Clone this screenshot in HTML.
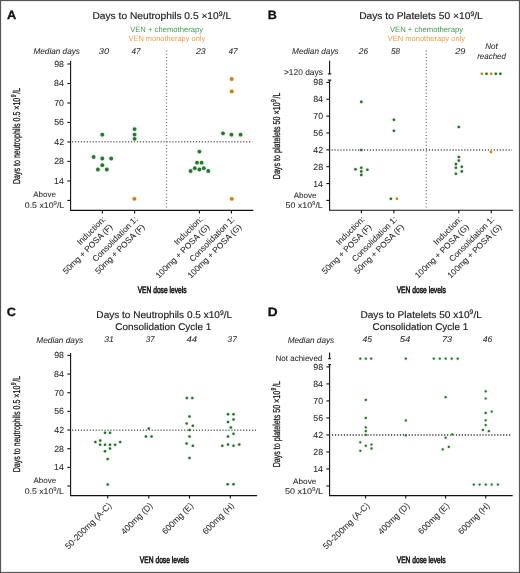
<!DOCTYPE html>
<html><head><meta charset="utf-8"><style>
html,body{margin:0;padding:0;background:#fff;}
svg{display:block;will-change:transform;}
text{font-family:"Liberation Sans",sans-serif;text-rendering:geometricPrecision;}
</style></head><body>
<svg width="520" height="573" viewBox="0 0 520 573">
<rect x="0" y="0" width="520" height="573" fill="#fff"/>
<text x="6.98" y="18.6" font-size="12" fill="#111" font-weight="bold" stroke="#111" stroke-width="0.3" textLength="9.26" lengthAdjust="spacingAndGlyphs" ><tspan font-size="12">A</tspan></text>
<text x="92.47" y="18.9" font-size="9.8" fill="#1a1a1a" stroke="#1a1a1a" stroke-width="0.15" textLength="138.62" lengthAdjust="spacingAndGlyphs" ><tspan font-size="9.8">Days to Neutrophils 0.5 ×10</tspan><tspan font-size="6.664000000000001" dy="-3.23">9</tspan><tspan font-size="9.8" dy="3.23">/L</tspan></text>
<text x="130.15" y="31.8" font-size="7.8" fill="#409a4a" textLength="72.86" lengthAdjust="spacingAndGlyphs" ><tspan font-size="7.8">VEN + chemotherapy</tspan></text>
<text x="128.45" y="41.3" font-size="7.6" fill="#e99f48" textLength="76.75" lengthAdjust="spacingAndGlyphs" ><tspan font-size="7.6">VEN monotherapy only</tspan></text>
<text x="33.45" y="54.2" font-size="8.3" fill="#2a2a2a" font-style="italic" stroke="#2a2a2a" stroke-width="0.06" textLength="46.51" lengthAdjust="spacingAndGlyphs" ><tspan font-size="8.3">Median days</tspan></text>
<text x="98.78" y="54.1" font-size="8.3" fill="#2a2a2a" font-style="italic" stroke="#2a2a2a" stroke-width="0.06" textLength="10.32" lengthAdjust="spacingAndGlyphs" ><tspan font-size="8.3">30</tspan></text>
<text x="131.45" y="54.1" font-size="8.3" fill="#2a2a2a" font-style="italic" stroke="#2a2a2a" stroke-width="0.06" textLength="9.04" lengthAdjust="spacingAndGlyphs" ><tspan font-size="8.3">47</tspan></text>
<text x="196.05" y="54.1" font-size="8.3" fill="#2a2a2a" font-style="italic" stroke="#2a2a2a" stroke-width="0.06" textLength="9.63" lengthAdjust="spacingAndGlyphs" ><tspan font-size="8.3">23</tspan></text>
<text x="228.55" y="54.1" font-size="8.3" fill="#2a2a2a" font-style="italic" stroke="#2a2a2a" stroke-width="0.06" textLength="9.13" lengthAdjust="spacingAndGlyphs" ><tspan font-size="8.3">47</tspan></text>
<line x1="70.6" y1="61" x2="70.6" y2="210.4" stroke="#111" stroke-width="1.1"/>
<line x1="67.39999999999999" y1="64.0" x2="70.6" y2="64.0" stroke="#111" stroke-width="1.1"/>
<text x="54.20" y="66.95" font-size="8.8" fill="#2a2a2a" stroke="#2a2a2a" stroke-width="0.06" textLength="9.79" lengthAdjust="spacingAndGlyphs" ><tspan font-size="8.8">98</tspan></text>
<line x1="67.39999999999999" y1="83.49" x2="70.6" y2="83.49" stroke="#111" stroke-width="1.1"/>
<text x="54.05" y="86.44" font-size="8.8" fill="#2a2a2a" stroke="#2a2a2a" stroke-width="0.06" textLength="9.79" lengthAdjust="spacingAndGlyphs" ><tspan font-size="8.8">84</tspan></text>
<line x1="67.39999999999999" y1="102.97999999999999" x2="70.6" y2="102.97999999999999" stroke="#111" stroke-width="1.1"/>
<text x="54.15" y="105.93" font-size="8.8" fill="#2a2a2a" stroke="#2a2a2a" stroke-width="0.06" textLength="9.79" lengthAdjust="spacingAndGlyphs" ><tspan font-size="8.8">70</tspan></text>
<line x1="67.39999999999999" y1="122.47" x2="70.6" y2="122.47" stroke="#111" stroke-width="1.1"/>
<text x="54.20" y="125.42" font-size="8.8" fill="#2a2a2a" stroke="#2a2a2a" stroke-width="0.06" textLength="9.79" lengthAdjust="spacingAndGlyphs" ><tspan font-size="8.8">56</tspan></text>
<line x1="67.39999999999999" y1="141.95999999999998" x2="70.6" y2="141.95999999999998" stroke="#111" stroke-width="1.1"/>
<text x="54.25" y="144.91" font-size="8.8" fill="#2a2a2a" stroke="#2a2a2a" stroke-width="0.06" textLength="9.79" lengthAdjust="spacingAndGlyphs" ><tspan font-size="8.8">42</tspan></text>
<line x1="67.39999999999999" y1="161.45" x2="70.6" y2="161.45" stroke="#111" stroke-width="1.1"/>
<text x="54.20" y="164.4" font-size="8.8" fill="#2a2a2a" stroke="#2a2a2a" stroke-width="0.06" textLength="9.79" lengthAdjust="spacingAndGlyphs" ><tspan font-size="8.8">28</tspan></text>
<line x1="67.39999999999999" y1="180.94" x2="70.6" y2="180.94" stroke="#111" stroke-width="1.1"/>
<text x="54.05" y="183.89" font-size="8.8" fill="#2a2a2a" stroke="#2a2a2a" stroke-width="0.06" textLength="9.79" lengthAdjust="spacingAndGlyphs" ><tspan font-size="8.8">14</tspan></text>
<line x1="67.39999999999999" y1="200.42999999999998" x2="70.6" y2="200.42999999999998" stroke="#111" stroke-width="1.1"/>
<text x="33.30" y="197.3" font-size="8" fill="#2a2a2a" stroke="#2a2a2a" stroke-width="0.06" textLength="22.63" lengthAdjust="spacingAndGlyphs" ><tspan font-size="8">Above</tspan></text>
<text x="24.78" y="207.5" font-size="8.2" fill="#2a2a2a" stroke="#2a2a2a" stroke-width="0.06" textLength="39.49" lengthAdjust="spacingAndGlyphs" ><tspan font-size="8.2">0.5 x10</tspan><tspan font-size="5.576" dy="-2.71">9</tspan><tspan font-size="8.2" dy="2.71">/L</tspan></text>
<line x1="70.05" y1="210.4" x2="253.4" y2="210.4" stroke="#111" stroke-width="1.1"/>
<line x1="102.4" y1="210.4" x2="102.4" y2="213.4" stroke="#111" stroke-width="1.1"/>
<line x1="134.6" y1="210.4" x2="134.6" y2="213.4" stroke="#111" stroke-width="1.1"/>
<line x1="199.4" y1="210.4" x2="199.4" y2="213.4" stroke="#111" stroke-width="1.1"/>
<line x1="231.4" y1="210.4" x2="231.4" y2="213.4" stroke="#111" stroke-width="1.1"/>
<line x1="72" y1="141.8" x2="252.2" y2="141.8" stroke="#6a6a6a" stroke-width="1.5" stroke-dasharray="1.2 1.75"/>
<line x1="166.5" y1="50.4" x2="166.5" y2="208" stroke="#707070" stroke-width="1.3" stroke-dasharray="1.2 2.05"/>
<circle cx="102.3" cy="134.7" r="2.80" fill="#bdf0bd" opacity="0.45"/>
<circle cx="93.6" cy="157.0" r="2.80" fill="#bdf0bd" opacity="0.45"/>
<circle cx="102.3" cy="158.5" r="2.80" fill="#bdf0bd" opacity="0.45"/>
<circle cx="111.2" cy="158.5" r="2.80" fill="#bdf0bd" opacity="0.45"/>
<circle cx="102.3" cy="165.2" r="2.80" fill="#bdf0bd" opacity="0.45"/>
<circle cx="97.9" cy="169.5" r="2.80" fill="#bdf0bd" opacity="0.45"/>
<circle cx="106.8" cy="169.5" r="2.80" fill="#bdf0bd" opacity="0.45"/>
<circle cx="134.6" cy="129.1" r="2.80" fill="#bdf0bd" opacity="0.45"/>
<circle cx="134.6" cy="134.6" r="2.80" fill="#bdf0bd" opacity="0.45"/>
<circle cx="134.6" cy="138.8" r="2.80" fill="#bdf0bd" opacity="0.45"/>
<circle cx="199.4" cy="151.6" r="2.80" fill="#bdf0bd" opacity="0.45"/>
<circle cx="197.0" cy="162.7" r="2.80" fill="#bdf0bd" opacity="0.45"/>
<circle cx="201.6" cy="162.7" r="2.80" fill="#bdf0bd" opacity="0.45"/>
<circle cx="194.8" cy="168.2" r="2.80" fill="#bdf0bd" opacity="0.45"/>
<circle cx="203.8" cy="168.2" r="2.80" fill="#bdf0bd" opacity="0.45"/>
<circle cx="190.6" cy="171" r="2.80" fill="#bdf0bd" opacity="0.45"/>
<circle cx="199.4" cy="169.5" r="2.80" fill="#bdf0bd" opacity="0.45"/>
<circle cx="208.3" cy="171" r="2.80" fill="#bdf0bd" opacity="0.45"/>
<circle cx="223" cy="133.3" r="2.80" fill="#bdf0bd" opacity="0.45"/>
<circle cx="231.4" cy="134.7" r="2.80" fill="#bdf0bd" opacity="0.45"/>
<circle cx="240.6" cy="134.7" r="2.80" fill="#bdf0bd" opacity="0.45"/>
<circle cx="102.3" cy="134.7" r="1.9" fill="#2a7532"/>
<circle cx="93.6" cy="157.0" r="1.9" fill="#2a7532"/>
<circle cx="102.3" cy="158.5" r="1.9" fill="#2a7532"/>
<circle cx="111.2" cy="158.5" r="1.9" fill="#2a7532"/>
<circle cx="102.3" cy="165.2" r="1.9" fill="#2a7532"/>
<circle cx="97.9" cy="169.5" r="1.9" fill="#2a7532"/>
<circle cx="106.8" cy="169.5" r="1.9" fill="#2a7532"/>
<circle cx="134.6" cy="129.1" r="1.9" fill="#2a7532"/>
<circle cx="134.6" cy="134.6" r="1.9" fill="#2a7532"/>
<circle cx="134.6" cy="138.8" r="1.9" fill="#2a7532"/>
<circle cx="199.4" cy="151.6" r="1.9" fill="#2a7532"/>
<circle cx="197.0" cy="162.7" r="1.9" fill="#2a7532"/>
<circle cx="201.6" cy="162.7" r="1.9" fill="#2a7532"/>
<circle cx="194.8" cy="168.2" r="1.9" fill="#2a7532"/>
<circle cx="203.8" cy="168.2" r="1.9" fill="#2a7532"/>
<circle cx="190.6" cy="171" r="1.9" fill="#2a7532"/>
<circle cx="199.4" cy="169.5" r="1.9" fill="#2a7532"/>
<circle cx="208.3" cy="171" r="1.9" fill="#2a7532"/>
<circle cx="223" cy="133.3" r="1.9" fill="#2a7532"/>
<circle cx="231.4" cy="134.7" r="1.9" fill="#2a7532"/>
<circle cx="240.6" cy="134.7" r="1.9" fill="#2a7532"/>
<circle cx="134.4" cy="198.8" r="2.80" fill="#ffeaa0" opacity="0.45"/>
<circle cx="231.8" cy="198.8" r="2.80" fill="#ffeaa0" opacity="0.45"/>
<circle cx="231.7" cy="79" r="2.80" fill="#ffeaa0" opacity="0.45"/>
<circle cx="231.7" cy="91.4" r="2.80" fill="#ffeaa0" opacity="0.45"/>
<circle cx="134.4" cy="198.8" r="1.9" fill="#c47f22"/>
<circle cx="231.8" cy="198.8" r="1.9" fill="#c47f22"/>
<circle cx="231.7" cy="79" r="1.9" fill="#c47f22"/>
<circle cx="231.7" cy="91.4" r="1.9" fill="#c47f22"/>
<g transform="translate(19.6,135.8) rotate(-90)">
<text x="-48.27" y="0" font-size="10" fill="#1a1a1a" stroke="#1a1a1a" stroke-width="0.3" textLength="96.19" lengthAdjust="spacingAndGlyphs" ><tspan font-size="10">Days to neutrophils 0.5 ×10</tspan><tspan font-size="2.16"> </tspan><tspan font-size="7.2" dy="-4.00">9</tspan><tspan font-size="3.24" dy="4.00"> </tspan><tspan font-size="10">/L</tspan></text>
</g>
<g transform="translate(106.10000000000001,219.8) rotate(-45)">
<text x="0" y="0.0" font-size="8.4" text-anchor="end" fill="#2a2a2a" stroke="#2a2a2a" stroke-width="0.06">Induction:</text>
<text x="-0.5" y="10.4" font-size="8.4" text-anchor="end" fill="#2a2a2a" stroke="#2a2a2a" stroke-width="0.06">50mg + POSA (F)</text>
</g>
<g transform="translate(138.29999999999998,219.8) rotate(-45)">
<text x="0" y="0.0" font-size="8.4" text-anchor="end" fill="#2a2a2a" stroke="#2a2a2a" stroke-width="0.06">Consolidation 1:</text>
<text x="-0.5" y="10.4" font-size="8.4" text-anchor="end" fill="#2a2a2a" stroke="#2a2a2a" stroke-width="0.06">50mg + POSA (F)</text>
</g>
<g transform="translate(203.1,219.8) rotate(-45)">
<text x="0" y="0.0" font-size="8.4" text-anchor="end" fill="#2a2a2a" stroke="#2a2a2a" stroke-width="0.06">Induction:</text>
<text x="-0.5" y="10.4" font-size="8.4" text-anchor="end" fill="#2a2a2a" stroke="#2a2a2a" stroke-width="0.06">100mg + POSA (G)</text>
</g>
<g transform="translate(235.1,219.8) rotate(-45)">
<text x="0" y="0.0" font-size="8.4" text-anchor="end" fill="#2a2a2a" stroke="#2a2a2a" stroke-width="0.06">Consolidation 1:</text>
<text x="-0.5" y="10.4" font-size="8.4" text-anchor="end" fill="#2a2a2a" stroke="#2a2a2a" stroke-width="0.06">100mg + POSA (G)</text>
</g>
<text x="137.66" y="293" font-size="9.4" fill="#1a1a1a" stroke="#1a1a1a" stroke-width="0.6" textLength="48.90" lengthAdjust="spacingAndGlyphs" ><tspan font-size="9.4">VEN dose levels</tspan></text>
<text x="267.76" y="18.6" font-size="12" fill="#111" font-weight="bold" stroke="#111" stroke-width="0.3" textLength="9.08" lengthAdjust="spacingAndGlyphs" ><tspan font-size="12">B</tspan></text>
<text x="359.16" y="18.9" font-size="9.8" fill="#1a1a1a" stroke="#1a1a1a" stroke-width="0.15" textLength="123.67" lengthAdjust="spacingAndGlyphs" ><tspan font-size="9.8">Days to Platelets 50 ×10</tspan><tspan font-size="6.664000000000001" dy="-3.23">9</tspan><tspan font-size="9.8" dy="3.23">/L</tspan></text>
<text x="389.95" y="31.8" font-size="7.8" fill="#409a4a" textLength="73.06" lengthAdjust="spacingAndGlyphs" ><tspan font-size="7.8">VEN + chemotherapy</tspan></text>
<text x="387.75" y="41.3" font-size="7.6" fill="#e99f48" textLength="77.25" lengthAdjust="spacingAndGlyphs" ><tspan font-size="7.6">VEN monotherapy only</tspan></text>
<text x="292.05" y="53.9" font-size="8.3" fill="#2a2a2a" font-style="italic" stroke="#2a2a2a" stroke-width="0.06" textLength="46.61" lengthAdjust="spacingAndGlyphs" ><tspan font-size="8.3">Median days</tspan></text>
<text x="358.80" y="53.9" font-size="8.3" fill="#2a2a2a" font-style="italic" stroke="#2a2a2a" stroke-width="0.06" textLength="9.23" lengthAdjust="spacingAndGlyphs" ><tspan font-size="8.3">26</tspan></text>
<text x="391.05" y="53.9" font-size="8.3" fill="#2a2a2a" font-style="italic" stroke="#2a2a2a" stroke-width="0.06" textLength="9.03" lengthAdjust="spacingAndGlyphs" ><tspan font-size="8.3">58</tspan></text>
<text x="455.25" y="53.9" font-size="8.3" fill="#2a2a2a" font-style="italic" stroke="#2a2a2a" stroke-width="0.06" textLength="10.15" lengthAdjust="spacingAndGlyphs" ><tspan font-size="8.3">29</tspan></text>
<text x="485.16" y="49.3" font-size="8.3" fill="#2a2a2a" font-style="italic" stroke="#2a2a2a" stroke-width="0.06" textLength="12.47" lengthAdjust="spacingAndGlyphs" ><tspan font-size="8.3">Not</tspan></text>
<text x="477.16" y="58.9" font-size="8.3" fill="#2a2a2a" font-style="italic" stroke="#2a2a2a" stroke-width="0.06" textLength="28.80" lengthAdjust="spacingAndGlyphs" ><tspan font-size="8.3">reached</tspan></text>
<line x1="329.6" y1="80.1" x2="329.6" y2="210.3" stroke="#111" stroke-width="1.1"/>
<line x1="326.40000000000003" y1="82.4" x2="329.6" y2="82.4" stroke="#111" stroke-width="1.1"/>
<text x="313.30" y="85.35" font-size="8.8" fill="#2a2a2a" stroke="#2a2a2a" stroke-width="0.06" textLength="9.79" lengthAdjust="spacingAndGlyphs" ><tspan font-size="8.8">98</tspan></text>
<line x1="326.40000000000003" y1="99.26" x2="329.6" y2="99.26" stroke="#111" stroke-width="1.1"/>
<text x="313.15" y="102.21" font-size="8.8" fill="#2a2a2a" stroke="#2a2a2a" stroke-width="0.06" textLength="9.79" lengthAdjust="spacingAndGlyphs" ><tspan font-size="8.8">84</tspan></text>
<line x1="326.40000000000003" y1="116.12" x2="329.6" y2="116.12" stroke="#111" stroke-width="1.1"/>
<text x="313.25" y="119.07" font-size="8.8" fill="#2a2a2a" stroke="#2a2a2a" stroke-width="0.06" textLength="9.79" lengthAdjust="spacingAndGlyphs" ><tspan font-size="8.8">70</tspan></text>
<line x1="326.40000000000003" y1="132.98000000000002" x2="329.6" y2="132.98000000000002" stroke="#111" stroke-width="1.1"/>
<text x="313.30" y="135.93" font-size="8.8" fill="#2a2a2a" stroke="#2a2a2a" stroke-width="0.06" textLength="9.79" lengthAdjust="spacingAndGlyphs" ><tspan font-size="8.8">56</tspan></text>
<line x1="326.40000000000003" y1="149.84" x2="329.6" y2="149.84" stroke="#111" stroke-width="1.1"/>
<text x="313.35" y="152.79" font-size="8.8" fill="#2a2a2a" stroke="#2a2a2a" stroke-width="0.06" textLength="9.79" lengthAdjust="spacingAndGlyphs" ><tspan font-size="8.8">42</tspan></text>
<line x1="326.40000000000003" y1="166.7" x2="329.6" y2="166.7" stroke="#111" stroke-width="1.1"/>
<text x="313.30" y="169.65" font-size="8.8" fill="#2a2a2a" stroke="#2a2a2a" stroke-width="0.06" textLength="9.79" lengthAdjust="spacingAndGlyphs" ><tspan font-size="8.8">28</tspan></text>
<line x1="326.40000000000003" y1="183.56" x2="329.6" y2="183.56" stroke="#111" stroke-width="1.1"/>
<text x="313.15" y="186.51" font-size="8.8" fill="#2a2a2a" stroke="#2a2a2a" stroke-width="0.06" textLength="9.79" lengthAdjust="spacingAndGlyphs" ><tspan font-size="8.8">14</tspan></text>
<line x1="326.40000000000003" y1="200.42000000000002" x2="329.6" y2="200.42000000000002" stroke="#111" stroke-width="1.1"/>
<line x1="329.6" y1="60.8" x2="329.6" y2="73.9" stroke="#111" stroke-width="1.1"/>
<line x1="327.9" y1="73.9" x2="331.3" y2="73.9" stroke="#111" stroke-width="1.1"/>
<line x1="327.9" y1="80.1" x2="331.3" y2="80.1" stroke="#111" stroke-width="1.1"/>
<text x="283.96" y="74.9" font-size="8.3" fill="#2a2a2a" stroke="#2a2a2a" stroke-width="0.06" textLength="38.88" lengthAdjust="spacingAndGlyphs" ><tspan font-size="8.3">&gt;120 days</tspan></text>
<text x="293.70" y="197.9" font-size="8" fill="#2a2a2a" stroke="#2a2a2a" stroke-width="0.06" textLength="22.84" lengthAdjust="spacingAndGlyphs" ><tspan font-size="8">Above</tspan></text>
<text x="285.62" y="207.5" font-size="8.2" fill="#2a2a2a" stroke="#2a2a2a" stroke-width="0.06" textLength="37.17" lengthAdjust="spacingAndGlyphs" ><tspan font-size="8.2">50 x10</tspan><tspan font-size="5.576" dy="-2.71">9</tspan><tspan font-size="8.2" dy="2.71">/L</tspan></text>
<line x1="329.05" y1="210.3" x2="513" y2="210.3" stroke="#111" stroke-width="1.1"/>
<line x1="361.4" y1="210.3" x2="361.4" y2="213.3" stroke="#111" stroke-width="1.1"/>
<line x1="393.9" y1="210.3" x2="393.9" y2="213.3" stroke="#111" stroke-width="1.1"/>
<line x1="458.8" y1="210.3" x2="458.8" y2="213.3" stroke="#111" stroke-width="1.1"/>
<line x1="491.3" y1="210.3" x2="491.3" y2="213.3" stroke="#111" stroke-width="1.1"/>
<line x1="331.5" y1="150.0" x2="512" y2="150.0" stroke="#555" stroke-width="1.5" stroke-dasharray="1.2 1.75"/>
<line x1="426.3" y1="50.4" x2="426.3" y2="208" stroke="#707070" stroke-width="1.3" stroke-dasharray="1.2 2.05"/>
<circle cx="361.3" cy="101.9" r="2.20" fill="#bdf0bd" opacity="0.45"/>
<circle cx="361.3" cy="150" r="2.20" fill="#bdf0bd" opacity="0.45"/>
<circle cx="355.5" cy="169.2" r="2.20" fill="#bdf0bd" opacity="0.45"/>
<circle cx="361.3" cy="167.8" r="2.20" fill="#bdf0bd" opacity="0.45"/>
<circle cx="367.4" cy="169.8" r="2.20" fill="#bdf0bd" opacity="0.45"/>
<circle cx="361.3" cy="171.4" r="2.20" fill="#bdf0bd" opacity="0.45"/>
<circle cx="361.3" cy="174.9" r="2.20" fill="#bdf0bd" opacity="0.45"/>
<circle cx="393.9" cy="119.8" r="2.20" fill="#bdf0bd" opacity="0.45"/>
<circle cx="393.9" cy="130.8" r="2.20" fill="#bdf0bd" opacity="0.45"/>
<circle cx="390.9" cy="198.7" r="2.20" fill="#bdf0bd" opacity="0.45"/>
<circle cx="458.8" cy="127" r="2.20" fill="#bdf0bd" opacity="0.45"/>
<circle cx="458.8" cy="157" r="2.20" fill="#bdf0bd" opacity="0.45"/>
<circle cx="458.8" cy="160.6" r="2.20" fill="#bdf0bd" opacity="0.45"/>
<circle cx="455.9" cy="164.1" r="2.20" fill="#bdf0bd" opacity="0.45"/>
<circle cx="455.9" cy="167.8" r="2.20" fill="#bdf0bd" opacity="0.45"/>
<circle cx="461.8" cy="166.7" r="2.20" fill="#bdf0bd" opacity="0.45"/>
<circle cx="461.8" cy="171.4" r="2.20" fill="#bdf0bd" opacity="0.45"/>
<circle cx="455.9" cy="173.8" r="2.20" fill="#bdf0bd" opacity="0.45"/>
<circle cx="486.5" cy="73.8" r="2.20" fill="#bdf0bd" opacity="0.45"/>
<circle cx="495.8" cy="73.8" r="2.20" fill="#bdf0bd" opacity="0.45"/>
<circle cx="500.4" cy="73.8" r="2.20" fill="#bdf0bd" opacity="0.45"/>
<circle cx="361.3" cy="101.9" r="1.3" fill="#246a2d"/>
<circle cx="361.3" cy="150" r="1.3" fill="#246a2d"/>
<circle cx="355.5" cy="169.2" r="1.3" fill="#246a2d"/>
<circle cx="361.3" cy="167.8" r="1.3" fill="#246a2d"/>
<circle cx="367.4" cy="169.8" r="1.3" fill="#246a2d"/>
<circle cx="361.3" cy="171.4" r="1.3" fill="#246a2d"/>
<circle cx="361.3" cy="174.9" r="1.3" fill="#246a2d"/>
<circle cx="393.9" cy="119.8" r="1.3" fill="#246a2d"/>
<circle cx="393.9" cy="130.8" r="1.3" fill="#246a2d"/>
<circle cx="390.9" cy="198.7" r="1.3" fill="#246a2d"/>
<circle cx="458.8" cy="127" r="1.3" fill="#246a2d"/>
<circle cx="458.8" cy="157" r="1.3" fill="#246a2d"/>
<circle cx="458.8" cy="160.6" r="1.3" fill="#246a2d"/>
<circle cx="455.9" cy="164.1" r="1.3" fill="#246a2d"/>
<circle cx="455.9" cy="167.8" r="1.3" fill="#246a2d"/>
<circle cx="461.8" cy="166.7" r="1.3" fill="#246a2d"/>
<circle cx="461.8" cy="171.4" r="1.3" fill="#246a2d"/>
<circle cx="455.9" cy="173.8" r="1.3" fill="#246a2d"/>
<circle cx="486.5" cy="73.8" r="1.3" fill="#246a2d"/>
<circle cx="495.8" cy="73.8" r="1.3" fill="#246a2d"/>
<circle cx="500.4" cy="73.8" r="1.3" fill="#246a2d"/>
<circle cx="396.9" cy="198.7" r="2.20" fill="#ffeaa0" opacity="0.45"/>
<circle cx="490.9" cy="152" r="2.20" fill="#ffeaa0" opacity="0.45"/>
<circle cx="481.9" cy="73.8" r="2.20" fill="#ffeaa0" opacity="0.45"/>
<circle cx="491.2" cy="73.8" r="2.20" fill="#ffeaa0" opacity="0.45"/>
<circle cx="396.9" cy="198.7" r="1.3" fill="#c47f22"/>
<circle cx="490.9" cy="152" r="1.3" fill="#c47f22"/>
<circle cx="481.9" cy="73.8" r="1.3" fill="#c47f22"/>
<circle cx="491.2" cy="73.8" r="1.3" fill="#c47f22"/>
<g transform="translate(280,135.7) rotate(-90)">
<text x="-43.57" y="0" font-size="10" fill="#1a1a1a" stroke="#1a1a1a" stroke-width="0.3" textLength="86.80" lengthAdjust="spacingAndGlyphs" ><tspan font-size="10">Days to platelets 50 ×10</tspan><tspan font-size="2.16"> </tspan><tspan font-size="7.2" dy="-4.00">9</tspan><tspan font-size="3.24" dy="4.00"> </tspan><tspan font-size="10">/L</tspan></text>
</g>
<g transform="translate(365.09999999999997,219.8) rotate(-45)">
<text x="0" y="0.0" font-size="8.4" text-anchor="end" fill="#2a2a2a" stroke="#2a2a2a" stroke-width="0.06">Induction:</text>
<text x="-0.5" y="10.4" font-size="8.4" text-anchor="end" fill="#2a2a2a" stroke="#2a2a2a" stroke-width="0.06">50mg + POSA (F)</text>
</g>
<g transform="translate(397.59999999999997,219.8) rotate(-45)">
<text x="0" y="0.0" font-size="8.4" text-anchor="end" fill="#2a2a2a" stroke="#2a2a2a" stroke-width="0.06">Consolidation 1:</text>
<text x="-0.5" y="10.4" font-size="8.4" text-anchor="end" fill="#2a2a2a" stroke="#2a2a2a" stroke-width="0.06">50mg + POSA (F)</text>
</g>
<g transform="translate(462.5,219.8) rotate(-45)">
<text x="0" y="0.0" font-size="8.4" text-anchor="end" fill="#2a2a2a" stroke="#2a2a2a" stroke-width="0.06">Induction:</text>
<text x="-0.5" y="10.4" font-size="8.4" text-anchor="end" fill="#2a2a2a" stroke="#2a2a2a" stroke-width="0.06">100mg + POSA (G)</text>
</g>
<g transform="translate(495.0,219.8) rotate(-45)">
<text x="0" y="0.0" font-size="8.4" text-anchor="end" fill="#2a2a2a" stroke="#2a2a2a" stroke-width="0.06">Consolidation 1:</text>
<text x="-0.5" y="10.4" font-size="8.4" text-anchor="end" fill="#2a2a2a" stroke="#2a2a2a" stroke-width="0.06">100mg + POSA (G)</text>
</g>
<text x="396.66" y="292.7" font-size="9.4" fill="#1a1a1a" stroke="#1a1a1a" stroke-width="0.6" textLength="49.10" lengthAdjust="spacingAndGlyphs" ><tspan font-size="9.4">VEN dose levels</tspan></text>
<text x="6.87" y="316.1" font-size="12" fill="#111" font-weight="bold" stroke="#111" stroke-width="0.3" textLength="9.16" lengthAdjust="spacingAndGlyphs" ><tspan font-size="12">C</tspan></text>
<text x="96.38" y="317.8" font-size="9.8" fill="#1a1a1a" stroke="#1a1a1a" stroke-width="0.15" textLength="135.73" lengthAdjust="spacingAndGlyphs" ><tspan font-size="9.8">Days to Neutrophils 0.5 x10</tspan><tspan font-size="6.664000000000001" dy="-3.23">9</tspan><tspan font-size="9.8" dy="3.23">/L</tspan></text>
<text x="115.39" y="329.6" font-size="9.8" fill="#1a1a1a" stroke="#1a1a1a" stroke-width="0.15" textLength="95.84" lengthAdjust="spacingAndGlyphs" ><tspan font-size="9.8">Consolidation Cycle 1</tspan></text>
<text x="36.25" y="342.7" font-size="8.3" fill="#2a2a2a" font-style="italic" stroke="#2a2a2a" stroke-width="0.06" textLength="47.01" lengthAdjust="spacingAndGlyphs" ><tspan font-size="8.3">Median days</tspan></text>
<text x="104.19" y="342.4" font-size="8.3" fill="#2a2a2a" font-style="italic" stroke="#2a2a2a" stroke-width="0.06" textLength="9.57" lengthAdjust="spacingAndGlyphs" ><tspan font-size="8.3">31</tspan></text>
<text x="146.01" y="342.4" font-size="8.3" fill="#2a2a2a" font-style="italic" stroke="#2a2a2a" stroke-width="0.06" textLength="8.58" lengthAdjust="spacingAndGlyphs" ><tspan font-size="8.3">37</tspan></text>
<text x="186.44" y="342.4" font-size="8.3" fill="#2a2a2a" font-style="italic" stroke="#2a2a2a" stroke-width="0.06" textLength="10.54" lengthAdjust="spacingAndGlyphs" ><tspan font-size="8.3">44</tspan></text>
<text x="227.60" y="342.4" font-size="8.3" fill="#2a2a2a" font-style="italic" stroke="#2a2a2a" stroke-width="0.06" textLength="9.18" lengthAdjust="spacingAndGlyphs" ><tspan font-size="8.3">37</tspan></text>
<line x1="70.6" y1="352.9" x2="70.6" y2="495.6" stroke="#111" stroke-width="1.1"/>
<line x1="67.39999999999999" y1="355.4" x2="70.6" y2="355.4" stroke="#111" stroke-width="1.1"/>
<text x="54.20" y="358.35" font-size="8.8" fill="#2a2a2a" stroke="#2a2a2a" stroke-width="0.06" textLength="9.79" lengthAdjust="spacingAndGlyphs" ><tspan font-size="8.8">98</tspan></text>
<line x1="67.39999999999999" y1="374.06" x2="70.6" y2="374.06" stroke="#111" stroke-width="1.1"/>
<text x="54.05" y="377.01" font-size="8.8" fill="#2a2a2a" stroke="#2a2a2a" stroke-width="0.06" textLength="9.79" lengthAdjust="spacingAndGlyphs" ><tspan font-size="8.8">84</tspan></text>
<line x1="67.39999999999999" y1="392.71999999999997" x2="70.6" y2="392.71999999999997" stroke="#111" stroke-width="1.1"/>
<text x="54.15" y="395.67" font-size="8.8" fill="#2a2a2a" stroke="#2a2a2a" stroke-width="0.06" textLength="9.79" lengthAdjust="spacingAndGlyphs" ><tspan font-size="8.8">70</tspan></text>
<line x1="67.39999999999999" y1="411.38" x2="70.6" y2="411.38" stroke="#111" stroke-width="1.1"/>
<text x="54.20" y="414.33" font-size="8.8" fill="#2a2a2a" stroke="#2a2a2a" stroke-width="0.06" textLength="9.79" lengthAdjust="spacingAndGlyphs" ><tspan font-size="8.8">56</tspan></text>
<line x1="67.39999999999999" y1="430.03999999999996" x2="70.6" y2="430.03999999999996" stroke="#111" stroke-width="1.1"/>
<text x="54.25" y="432.99" font-size="8.8" fill="#2a2a2a" stroke="#2a2a2a" stroke-width="0.06" textLength="9.79" lengthAdjust="spacingAndGlyphs" ><tspan font-size="8.8">42</tspan></text>
<line x1="67.39999999999999" y1="448.7" x2="70.6" y2="448.7" stroke="#111" stroke-width="1.1"/>
<text x="54.20" y="451.65" font-size="8.8" fill="#2a2a2a" stroke="#2a2a2a" stroke-width="0.06" textLength="9.79" lengthAdjust="spacingAndGlyphs" ><tspan font-size="8.8">28</tspan></text>
<line x1="67.39999999999999" y1="467.36" x2="70.6" y2="467.36" stroke="#111" stroke-width="1.1"/>
<text x="54.05" y="470.31" font-size="8.8" fill="#2a2a2a" stroke="#2a2a2a" stroke-width="0.06" textLength="9.79" lengthAdjust="spacingAndGlyphs" ><tspan font-size="8.8">14</tspan></text>
<line x1="67.39999999999999" y1="486.02" x2="70.6" y2="486.02" stroke="#111" stroke-width="1.1"/>
<text x="33.50" y="482.8" font-size="8" fill="#2a2a2a" stroke="#2a2a2a" stroke-width="0.06" textLength="22.63" lengthAdjust="spacingAndGlyphs" ><tspan font-size="8">Above</tspan></text>
<text x="24.78" y="493.7" font-size="8.2" fill="#2a2a2a" stroke="#2a2a2a" stroke-width="0.06" textLength="39.08" lengthAdjust="spacingAndGlyphs" ><tspan font-size="8.2">0.5 x10</tspan><tspan font-size="5.576" dy="-2.71">9</tspan><tspan font-size="8.2" dy="2.71">/L</tspan></text>
<line x1="70.05" y1="495.6" x2="257.1" y2="495.6" stroke="#111" stroke-width="1.1"/>
<line x1="107.7" y1="495.6" x2="107.7" y2="498.6" stroke="#111" stroke-width="1.1"/>
<line x1="148.8" y1="495.6" x2="148.8" y2="498.6" stroke="#111" stroke-width="1.1"/>
<line x1="189.5" y1="495.6" x2="189.5" y2="498.6" stroke="#111" stroke-width="1.1"/>
<line x1="230.3" y1="495.6" x2="230.3" y2="498.6" stroke="#111" stroke-width="1.1"/>
<line x1="72" y1="430.2" x2="256" y2="430.2" stroke="#6a6a6a" stroke-width="1.5" stroke-dasharray="1.2 1.75"/>
<circle cx="105" cy="432.7" r="2.15" fill="#bdf0bd" opacity="0.45"/>
<circle cx="110" cy="432.7" r="2.15" fill="#bdf0bd" opacity="0.45"/>
<circle cx="100.2" cy="440.4" r="2.15" fill="#bdf0bd" opacity="0.45"/>
<circle cx="95.4" cy="442.1" r="2.15" fill="#bdf0bd" opacity="0.45"/>
<circle cx="120.1" cy="442.1" r="2.15" fill="#bdf0bd" opacity="0.45"/>
<circle cx="100.2" cy="444.7" r="2.15" fill="#bdf0bd" opacity="0.45"/>
<circle cx="105" cy="444.7" r="2.15" fill="#bdf0bd" opacity="0.45"/>
<circle cx="110" cy="444.7" r="2.15" fill="#bdf0bd" opacity="0.45"/>
<circle cx="115.1" cy="444.7" r="2.15" fill="#bdf0bd" opacity="0.45"/>
<circle cx="110" cy="448.6" r="2.15" fill="#bdf0bd" opacity="0.45"/>
<circle cx="105" cy="451.2" r="2.15" fill="#bdf0bd" opacity="0.45"/>
<circle cx="107.6" cy="459.1" r="2.15" fill="#bdf0bd" opacity="0.45"/>
<circle cx="107.7" cy="484.6" r="2.15" fill="#bdf0bd" opacity="0.45"/>
<circle cx="148.8" cy="428.5" r="2.15" fill="#bdf0bd" opacity="0.45"/>
<circle cx="145.9" cy="436.5" r="2.15" fill="#bdf0bd" opacity="0.45"/>
<circle cx="151.5" cy="436.5" r="2.15" fill="#bdf0bd" opacity="0.45"/>
<circle cx="186.8" cy="397.9" r="2.15" fill="#bdf0bd" opacity="0.45"/>
<circle cx="192.3" cy="397.9" r="2.15" fill="#bdf0bd" opacity="0.45"/>
<circle cx="189.5" cy="416.5" r="2.15" fill="#bdf0bd" opacity="0.45"/>
<circle cx="186.6" cy="423.4" r="2.15" fill="#bdf0bd" opacity="0.45"/>
<circle cx="192.8" cy="425.8" r="2.15" fill="#bdf0bd" opacity="0.45"/>
<circle cx="189.5" cy="430" r="2.15" fill="#bdf0bd" opacity="0.45"/>
<circle cx="189.5" cy="436.6" r="2.15" fill="#bdf0bd" opacity="0.45"/>
<circle cx="186.6" cy="443.4" r="2.15" fill="#bdf0bd" opacity="0.45"/>
<circle cx="192.8" cy="445.8" r="2.15" fill="#bdf0bd" opacity="0.45"/>
<circle cx="189.5" cy="458" r="2.15" fill="#bdf0bd" opacity="0.45"/>
<circle cx="228" cy="414.2" r="2.15" fill="#bdf0bd" opacity="0.45"/>
<circle cx="233.5" cy="414.2" r="2.15" fill="#bdf0bd" opacity="0.45"/>
<circle cx="233.5" cy="419.5" r="2.15" fill="#bdf0bd" opacity="0.45"/>
<circle cx="228" cy="422" r="2.15" fill="#bdf0bd" opacity="0.45"/>
<circle cx="230.8" cy="427.4" r="2.15" fill="#bdf0bd" opacity="0.45"/>
<circle cx="233.5" cy="433.8" r="2.15" fill="#bdf0bd" opacity="0.45"/>
<circle cx="228" cy="436.6" r="2.15" fill="#bdf0bd" opacity="0.45"/>
<circle cx="222.3" cy="445.8" r="2.15" fill="#bdf0bd" opacity="0.45"/>
<circle cx="228" cy="444.6" r="2.15" fill="#bdf0bd" opacity="0.45"/>
<circle cx="233.5" cy="445.8" r="2.15" fill="#bdf0bd" opacity="0.45"/>
<circle cx="239.2" cy="444.6" r="2.15" fill="#bdf0bd" opacity="0.45"/>
<circle cx="227.7" cy="484.2" r="2.15" fill="#bdf0bd" opacity="0.45"/>
<circle cx="233.5" cy="484.2" r="2.15" fill="#bdf0bd" opacity="0.45"/>
<circle cx="105" cy="432.7" r="1.25" fill="#246a2d"/>
<circle cx="110" cy="432.7" r="1.25" fill="#246a2d"/>
<circle cx="100.2" cy="440.4" r="1.25" fill="#246a2d"/>
<circle cx="95.4" cy="442.1" r="1.25" fill="#246a2d"/>
<circle cx="120.1" cy="442.1" r="1.25" fill="#246a2d"/>
<circle cx="100.2" cy="444.7" r="1.25" fill="#246a2d"/>
<circle cx="105" cy="444.7" r="1.25" fill="#246a2d"/>
<circle cx="110" cy="444.7" r="1.25" fill="#246a2d"/>
<circle cx="115.1" cy="444.7" r="1.25" fill="#246a2d"/>
<circle cx="110" cy="448.6" r="1.25" fill="#246a2d"/>
<circle cx="105" cy="451.2" r="1.25" fill="#246a2d"/>
<circle cx="107.6" cy="459.1" r="1.25" fill="#246a2d"/>
<circle cx="107.7" cy="484.6" r="1.25" fill="#246a2d"/>
<circle cx="148.8" cy="428.5" r="1.25" fill="#246a2d"/>
<circle cx="145.9" cy="436.5" r="1.25" fill="#246a2d"/>
<circle cx="151.5" cy="436.5" r="1.25" fill="#246a2d"/>
<circle cx="186.8" cy="397.9" r="1.25" fill="#246a2d"/>
<circle cx="192.3" cy="397.9" r="1.25" fill="#246a2d"/>
<circle cx="189.5" cy="416.5" r="1.25" fill="#246a2d"/>
<circle cx="186.6" cy="423.4" r="1.25" fill="#246a2d"/>
<circle cx="192.8" cy="425.8" r="1.25" fill="#246a2d"/>
<circle cx="189.5" cy="430" r="1.25" fill="#246a2d"/>
<circle cx="189.5" cy="436.6" r="1.25" fill="#246a2d"/>
<circle cx="186.6" cy="443.4" r="1.25" fill="#246a2d"/>
<circle cx="192.8" cy="445.8" r="1.25" fill="#246a2d"/>
<circle cx="189.5" cy="458" r="1.25" fill="#246a2d"/>
<circle cx="228" cy="414.2" r="1.25" fill="#246a2d"/>
<circle cx="233.5" cy="414.2" r="1.25" fill="#246a2d"/>
<circle cx="233.5" cy="419.5" r="1.25" fill="#246a2d"/>
<circle cx="228" cy="422" r="1.25" fill="#246a2d"/>
<circle cx="230.8" cy="427.4" r="1.25" fill="#246a2d"/>
<circle cx="233.5" cy="433.8" r="1.25" fill="#246a2d"/>
<circle cx="228" cy="436.6" r="1.25" fill="#246a2d"/>
<circle cx="222.3" cy="445.8" r="1.25" fill="#246a2d"/>
<circle cx="228" cy="444.6" r="1.25" fill="#246a2d"/>
<circle cx="233.5" cy="445.8" r="1.25" fill="#246a2d"/>
<circle cx="239.2" cy="444.6" r="1.25" fill="#246a2d"/>
<circle cx="227.7" cy="484.2" r="1.25" fill="#246a2d"/>
<circle cx="233.5" cy="484.2" r="1.25" fill="#246a2d"/>
<g transform="translate(19.6,423.9) rotate(-90)">
<text x="-48.47" y="0" font-size="10" fill="#1a1a1a" stroke="#1a1a1a" stroke-width="0.3" textLength="96.60" lengthAdjust="spacingAndGlyphs" ><tspan font-size="10">Days to neutrophils 0.5 ×10</tspan><tspan font-size="2.16"> </tspan><tspan font-size="7.2" dy="-4.00">9</tspan><tspan font-size="3.24" dy="4.00"> </tspan><tspan font-size="10">/L</tspan></text>
</g>
<g transform="translate(112.0,506.3) rotate(-45)">
<text x="0" y="0.0" font-size="8.6" text-anchor="end" fill="#2a2a2a" stroke="#2a2a2a" stroke-width="0.06">50-200mg (A-C)</text>
</g>
<g transform="translate(153.10000000000002,506.3) rotate(-45)">
<text x="0" y="0.0" font-size="8.6" text-anchor="end" fill="#2a2a2a" stroke="#2a2a2a" stroke-width="0.06">400mg (D)</text>
</g>
<g transform="translate(193.8,506.3) rotate(-45)">
<text x="0" y="0.0" font-size="8.6" text-anchor="end" fill="#2a2a2a" stroke="#2a2a2a" stroke-width="0.06">600mg (E)</text>
</g>
<g transform="translate(234.60000000000002,506.3) rotate(-45)">
<text x="0" y="0.0" font-size="8.6" text-anchor="end" fill="#2a2a2a" stroke="#2a2a2a" stroke-width="0.06">600mg (H)</text>
</g>
<text x="139.76" y="562.5" font-size="9.4" fill="#1a1a1a" stroke="#1a1a1a" stroke-width="0.6" textLength="49.20" lengthAdjust="spacingAndGlyphs" ><tspan font-size="9.4">VEN dose levels</tspan></text>
<text x="267.69" y="315.9" font-size="12" fill="#111" font-weight="bold" stroke="#111" stroke-width="0.3" textLength="9.90" lengthAdjust="spacingAndGlyphs" ><tspan font-size="12">D</tspan></text>
<text x="360.42" y="317.6" font-size="9.8" fill="#1a1a1a" stroke="#1a1a1a" stroke-width="0.15" textLength="121.49" lengthAdjust="spacingAndGlyphs" ><tspan font-size="9.8">Days to Platelets 50 x10</tspan><tspan font-size="6.664000000000001" dy="-3.23">9</tspan><tspan font-size="9.8" dy="3.23">/L</tspan></text>
<text x="372.50" y="329.8" font-size="9.8" fill="#1a1a1a" stroke="#1a1a1a" stroke-width="0.15" textLength="95.64" lengthAdjust="spacingAndGlyphs" ><tspan font-size="9.8">Consolidation Cycle 1</tspan></text>
<text x="287.65" y="342.7" font-size="8.3" fill="#2a2a2a" font-style="italic" stroke="#2a2a2a" stroke-width="0.06" textLength="46.51" lengthAdjust="spacingAndGlyphs" ><tspan font-size="8.3">Median days</tspan></text>
<text x="362.45" y="342.4" font-size="8.3" fill="#2a2a2a" font-style="italic" stroke="#2a2a2a" stroke-width="0.06" textLength="9.53" lengthAdjust="spacingAndGlyphs" ><tspan font-size="8.3">45</tspan></text>
<text x="399.77" y="342.4" font-size="8.3" fill="#2a2a2a" font-style="italic" stroke="#2a2a2a" stroke-width="0.06" textLength="10.61" lengthAdjust="spacingAndGlyphs" ><tspan font-size="8.3">54</tspan></text>
<text x="442.07" y="342.4" font-size="8.3" fill="#2a2a2a" font-style="italic" stroke="#2a2a2a" stroke-width="0.06" textLength="10.12" lengthAdjust="spacingAndGlyphs" ><tspan font-size="8.3">73</tspan></text>
<text x="482.75" y="342.4" font-size="8.3" fill="#2a2a2a" font-style="italic" stroke="#2a2a2a" stroke-width="0.06" textLength="9.59" lengthAdjust="spacingAndGlyphs" ><tspan font-size="8.3">46</tspan></text>
<line x1="329.6" y1="364.6" x2="329.6" y2="495.6" stroke="#111" stroke-width="1.1"/>
<line x1="326.40000000000003" y1="366.9" x2="329.6" y2="366.9" stroke="#111" stroke-width="1.1"/>
<text x="313.30" y="369.85" font-size="8.8" fill="#2a2a2a" stroke="#2a2a2a" stroke-width="0.06" textLength="9.79" lengthAdjust="spacingAndGlyphs" ><tspan font-size="8.8">98</tspan></text>
<line x1="326.40000000000003" y1="383.90999999999997" x2="329.6" y2="383.90999999999997" stroke="#111" stroke-width="1.1"/>
<text x="313.15" y="386.86" font-size="8.8" fill="#2a2a2a" stroke="#2a2a2a" stroke-width="0.06" textLength="9.79" lengthAdjust="spacingAndGlyphs" ><tspan font-size="8.8">84</tspan></text>
<line x1="326.40000000000003" y1="400.91999999999996" x2="329.6" y2="400.91999999999996" stroke="#111" stroke-width="1.1"/>
<text x="313.25" y="403.87" font-size="8.8" fill="#2a2a2a" stroke="#2a2a2a" stroke-width="0.06" textLength="9.79" lengthAdjust="spacingAndGlyphs" ><tspan font-size="8.8">70</tspan></text>
<line x1="326.40000000000003" y1="417.92999999999995" x2="329.6" y2="417.92999999999995" stroke="#111" stroke-width="1.1"/>
<text x="313.30" y="420.88" font-size="8.8" fill="#2a2a2a" stroke="#2a2a2a" stroke-width="0.06" textLength="9.79" lengthAdjust="spacingAndGlyphs" ><tspan font-size="8.8">56</tspan></text>
<line x1="326.40000000000003" y1="434.94" x2="329.6" y2="434.94" stroke="#111" stroke-width="1.1"/>
<text x="313.35" y="437.89" font-size="8.8" fill="#2a2a2a" stroke="#2a2a2a" stroke-width="0.06" textLength="9.79" lengthAdjust="spacingAndGlyphs" ><tspan font-size="8.8">42</tspan></text>
<line x1="326.40000000000003" y1="451.95" x2="329.6" y2="451.95" stroke="#111" stroke-width="1.1"/>
<text x="313.30" y="454.9" font-size="8.8" fill="#2a2a2a" stroke="#2a2a2a" stroke-width="0.06" textLength="9.79" lengthAdjust="spacingAndGlyphs" ><tspan font-size="8.8">28</tspan></text>
<line x1="326.40000000000003" y1="468.96" x2="329.6" y2="468.96" stroke="#111" stroke-width="1.1"/>
<text x="313.15" y="471.91" font-size="8.8" fill="#2a2a2a" stroke="#2a2a2a" stroke-width="0.06" textLength="9.79" lengthAdjust="spacingAndGlyphs" ><tspan font-size="8.8">14</tspan></text>
<line x1="326.40000000000003" y1="485.96999999999997" x2="329.6" y2="485.96999999999997" stroke="#111" stroke-width="1.1"/>
<line x1="329.6" y1="352.5" x2="329.6" y2="358.7" stroke="#111" stroke-width="1.1"/>
<line x1="328.2" y1="358.7" x2="331.0" y2="358.7" stroke="#111" stroke-width="1.1"/>
<line x1="328.2" y1="364.6" x2="331.0" y2="364.6" stroke="#111" stroke-width="1.1"/>
<text x="275.46" y="361.2" font-size="8.1" fill="#2a2a2a" stroke="#2a2a2a" stroke-width="0.06" textLength="46.87" lengthAdjust="spacingAndGlyphs" ><tspan font-size="8.1">Not achieved</tspan></text>
<text x="293.00" y="483.7" font-size="8" fill="#2a2a2a" stroke="#2a2a2a" stroke-width="0.06" textLength="23.34" lengthAdjust="spacingAndGlyphs" ><tspan font-size="8">Above</tspan></text>
<text x="285.01" y="493.7" font-size="8.2" fill="#2a2a2a" stroke="#2a2a2a" stroke-width="0.06" textLength="38.09" lengthAdjust="spacingAndGlyphs" ><tspan font-size="8.2">50 x10</tspan><tspan font-size="5.576" dy="-2.71">9</tspan><tspan font-size="8.2" dy="2.71">/L</tspan></text>
<line x1="329.05" y1="495.6" x2="512.7" y2="495.6" stroke="#111" stroke-width="1.1"/>
<line x1="365.6" y1="495.6" x2="365.6" y2="498.6" stroke="#111" stroke-width="1.1"/>
<line x1="405.8" y1="495.6" x2="405.8" y2="498.6" stroke="#111" stroke-width="1.1"/>
<line x1="445.6" y1="495.6" x2="445.6" y2="498.6" stroke="#111" stroke-width="1.1"/>
<line x1="485.8" y1="495.6" x2="485.8" y2="498.6" stroke="#111" stroke-width="1.1"/>
<line x1="332" y1="435.0" x2="511" y2="435.0" stroke="#333" stroke-width="1.5" stroke-dasharray="1.2 1.75"/>
<circle cx="360.3" cy="358.7" r="2.05" fill="#bdf0bd" opacity="0.45"/>
<circle cx="365.8" cy="358.7" r="2.05" fill="#bdf0bd" opacity="0.45"/>
<circle cx="371.2" cy="358.7" r="2.05" fill="#bdf0bd" opacity="0.45"/>
<circle cx="365.8" cy="400" r="2.05" fill="#bdf0bd" opacity="0.45"/>
<circle cx="365.8" cy="418" r="2.05" fill="#bdf0bd" opacity="0.45"/>
<circle cx="365.8" cy="427.4" r="2.05" fill="#bdf0bd" opacity="0.45"/>
<circle cx="365.8" cy="431.2" r="2.05" fill="#bdf0bd" opacity="0.45"/>
<circle cx="365.8" cy="434.9" r="2.05" fill="#bdf0bd" opacity="0.45"/>
<circle cx="360.3" cy="442.3" r="2.05" fill="#bdf0bd" opacity="0.45"/>
<circle cx="365.8" cy="445.8" r="2.05" fill="#bdf0bd" opacity="0.45"/>
<circle cx="371.5" cy="444.6" r="2.05" fill="#bdf0bd" opacity="0.45"/>
<circle cx="371.5" cy="448.5" r="2.05" fill="#bdf0bd" opacity="0.45"/>
<circle cx="360.3" cy="450.8" r="2.05" fill="#bdf0bd" opacity="0.45"/>
<circle cx="405.8" cy="358.7" r="2.05" fill="#bdf0bd" opacity="0.45"/>
<circle cx="405.8" cy="420.5" r="2.05" fill="#bdf0bd" opacity="0.45"/>
<circle cx="405.8" cy="435.4" r="2.05" fill="#bdf0bd" opacity="0.45"/>
<circle cx="433.8" cy="358.7" r="2.05" fill="#bdf0bd" opacity="0.45"/>
<circle cx="439.8" cy="358.7" r="2.05" fill="#bdf0bd" opacity="0.45"/>
<circle cx="445.7" cy="358.7" r="2.05" fill="#bdf0bd" opacity="0.45"/>
<circle cx="451.7" cy="358.7" r="2.05" fill="#bdf0bd" opacity="0.45"/>
<circle cx="457.7" cy="358.7" r="2.05" fill="#bdf0bd" opacity="0.45"/>
<circle cx="445.6" cy="397.2" r="2.05" fill="#bdf0bd" opacity="0.45"/>
<circle cx="452.3" cy="434.4" r="2.05" fill="#bdf0bd" opacity="0.45"/>
<circle cx="445.6" cy="437.7" r="2.05" fill="#bdf0bd" opacity="0.45"/>
<circle cx="448.8" cy="446.9" r="2.05" fill="#bdf0bd" opacity="0.45"/>
<circle cx="442.7" cy="449.4" r="2.05" fill="#bdf0bd" opacity="0.45"/>
<circle cx="485.7" cy="391.4" r="2.05" fill="#bdf0bd" opacity="0.45"/>
<circle cx="485.7" cy="398.6" r="2.05" fill="#bdf0bd" opacity="0.45"/>
<circle cx="485.7" cy="413" r="2.05" fill="#bdf0bd" opacity="0.45"/>
<circle cx="491.8" cy="411.6" r="2.05" fill="#bdf0bd" opacity="0.45"/>
<circle cx="485.7" cy="420.3" r="2.05" fill="#bdf0bd" opacity="0.45"/>
<circle cx="485.7" cy="425.1" r="2.05" fill="#bdf0bd" opacity="0.45"/>
<circle cx="482.9" cy="430" r="2.05" fill="#bdf0bd" opacity="0.45"/>
<circle cx="488.8" cy="431.2" r="2.05" fill="#bdf0bd" opacity="0.45"/>
<circle cx="473.8" cy="484.6" r="2.05" fill="#bdf0bd" opacity="0.45"/>
<circle cx="479.6" cy="484.6" r="2.05" fill="#bdf0bd" opacity="0.45"/>
<circle cx="485.8" cy="484.6" r="2.05" fill="#bdf0bd" opacity="0.45"/>
<circle cx="491.7" cy="484.6" r="2.05" fill="#bdf0bd" opacity="0.45"/>
<circle cx="497.9" cy="484.6" r="2.05" fill="#bdf0bd" opacity="0.45"/>
<circle cx="360.3" cy="358.7" r="1.15" fill="#246a2d"/>
<circle cx="365.8" cy="358.7" r="1.15" fill="#246a2d"/>
<circle cx="371.2" cy="358.7" r="1.15" fill="#246a2d"/>
<circle cx="365.8" cy="400" r="1.15" fill="#246a2d"/>
<circle cx="365.8" cy="418" r="1.15" fill="#246a2d"/>
<circle cx="365.8" cy="427.4" r="1.15" fill="#246a2d"/>
<circle cx="365.8" cy="431.2" r="1.15" fill="#246a2d"/>
<circle cx="365.8" cy="434.9" r="1.15" fill="#246a2d"/>
<circle cx="360.3" cy="442.3" r="1.15" fill="#246a2d"/>
<circle cx="365.8" cy="445.8" r="1.15" fill="#246a2d"/>
<circle cx="371.5" cy="444.6" r="1.15" fill="#246a2d"/>
<circle cx="371.5" cy="448.5" r="1.15" fill="#246a2d"/>
<circle cx="360.3" cy="450.8" r="1.15" fill="#246a2d"/>
<circle cx="405.8" cy="358.7" r="1.15" fill="#246a2d"/>
<circle cx="405.8" cy="420.5" r="1.15" fill="#246a2d"/>
<circle cx="405.8" cy="435.4" r="1.15" fill="#246a2d"/>
<circle cx="433.8" cy="358.7" r="1.15" fill="#246a2d"/>
<circle cx="439.8" cy="358.7" r="1.15" fill="#246a2d"/>
<circle cx="445.7" cy="358.7" r="1.15" fill="#246a2d"/>
<circle cx="451.7" cy="358.7" r="1.15" fill="#246a2d"/>
<circle cx="457.7" cy="358.7" r="1.15" fill="#246a2d"/>
<circle cx="445.6" cy="397.2" r="1.15" fill="#246a2d"/>
<circle cx="452.3" cy="434.4" r="1.15" fill="#246a2d"/>
<circle cx="445.6" cy="437.7" r="1.15" fill="#246a2d"/>
<circle cx="448.8" cy="446.9" r="1.15" fill="#246a2d"/>
<circle cx="442.7" cy="449.4" r="1.15" fill="#246a2d"/>
<circle cx="485.7" cy="391.4" r="1.15" fill="#246a2d"/>
<circle cx="485.7" cy="398.6" r="1.15" fill="#246a2d"/>
<circle cx="485.7" cy="413" r="1.15" fill="#246a2d"/>
<circle cx="491.8" cy="411.6" r="1.15" fill="#246a2d"/>
<circle cx="485.7" cy="420.3" r="1.15" fill="#246a2d"/>
<circle cx="485.7" cy="425.1" r="1.15" fill="#246a2d"/>
<circle cx="482.9" cy="430" r="1.15" fill="#246a2d"/>
<circle cx="488.8" cy="431.2" r="1.15" fill="#246a2d"/>
<circle cx="473.8" cy="484.6" r="1.15" fill="#246a2d"/>
<circle cx="479.6" cy="484.6" r="1.15" fill="#246a2d"/>
<circle cx="485.8" cy="484.6" r="1.15" fill="#246a2d"/>
<circle cx="491.7" cy="484.6" r="1.15" fill="#246a2d"/>
<circle cx="497.9" cy="484.6" r="1.15" fill="#246a2d"/>
<g transform="translate(279.6,424.0) rotate(-90)">
<text x="-43.37" y="0" font-size="10" fill="#1a1a1a" stroke="#1a1a1a" stroke-width="0.3" textLength="86.39" lengthAdjust="spacingAndGlyphs" ><tspan font-size="10">Days to platelets 50 ×10</tspan><tspan font-size="2.16"> </tspan><tspan font-size="7.2" dy="-4.00">9</tspan><tspan font-size="3.24" dy="4.00"> </tspan><tspan font-size="10">/L</tspan></text>
</g>
<g transform="translate(369.90000000000003,506.3) rotate(-45)">
<text x="0" y="0.0" font-size="8.6" text-anchor="end" fill="#2a2a2a" stroke="#2a2a2a" stroke-width="0.06">50-200mg (A-C)</text>
</g>
<g transform="translate(410.1,506.3) rotate(-45)">
<text x="0" y="0.0" font-size="8.6" text-anchor="end" fill="#2a2a2a" stroke="#2a2a2a" stroke-width="0.06">400mg (D)</text>
</g>
<g transform="translate(449.90000000000003,506.3) rotate(-45)">
<text x="0" y="0.0" font-size="8.6" text-anchor="end" fill="#2a2a2a" stroke="#2a2a2a" stroke-width="0.06">600mg (E)</text>
</g>
<g transform="translate(490.1,506.3) rotate(-45)">
<text x="0" y="0.0" font-size="8.6" text-anchor="end" fill="#2a2a2a" stroke="#2a2a2a" stroke-width="0.06">600mg (H)</text>
</g>
<text x="396.76" y="562.7" font-size="9.4" fill="#1a1a1a" stroke="#1a1a1a" stroke-width="0.6" textLength="48.80" lengthAdjust="spacingAndGlyphs" ><tspan font-size="9.4">VEN dose levels</tspan></text>
<rect x="0.5" y="0.5" width="519" height="572" fill="none" stroke="#555" stroke-width="1.2"/>
</svg>
</body></html>
